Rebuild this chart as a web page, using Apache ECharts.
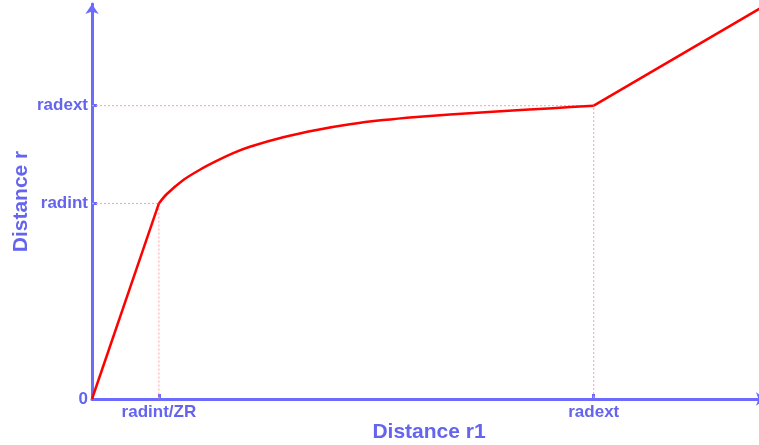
<!DOCTYPE html>
<html>
<head>
<meta charset="utf-8">
<script src="https://cdn.jsdelivr.net/npm/echarts@6/dist/echarts.min.js"></script>
<style>
  html, body { margin: 0; padding: 0; background: #fff; }
  #chart { width: 759px; height: 445px; }
</style>
</head>
<body>
<div id="chart"></div>
<script>
// Mapping r(r1): linear up to radint/ZR, a bending curve up to radext, identity beyond.
const linearInR1 = [0, 0.4];
const linearInR  = [0, 2];
const curveR1 = [0.4, 0.446, 0.546, 0.645, 0.745, 0.844, 0.944, 1.143, 1.343, 1.542, 1.741, 1.94, 2.14, 2.419, 2.756, 3];
const curveR  = [2, 2.094, 2.24, 2.345, 2.435, 2.515, 2.58, 2.677, 2.752, 2.81, 2.853, 2.885, 2.91, 2.94, 2.975, 3];
const outerR1 = [3, 4];
const outerR  = [3, 4];

// Kink points that get dotted guides to both axes
const kinkR1 = [0.4, 3];
const kinkR  = [2, 3];

// Named tick positions
const xTickValues = [0.4, 3];
const xTickNames = ['radint/ZR', 'radext'];
const yTickValues = [0, 2, 3];
const yTickNames = ['0', 'radint', 'radext'];

const axisColor = '#6b6bff';
const textColor = '#6464ee';
const guideColor = '#ff9f9f';
const curveColor = '#ff0000';
const font = '"Liberation Sans", Arial, sans-serif';

const pairs = (xs, ys) => xs.map((x, i) => [x, ys[i]]);

function nameFor(values, names) {
  return v => {
    const i = values.findIndex(t => Math.abs(t - v) < 1e-9);
    return i >= 0 ? names[i] : '';
  };
}

const segmentStyle = {
  type: 'line',
  showSymbol: false,
  clip: true,
  silent: true,
  lineStyle: { color: curveColor, width: 2.5 },
  z: 5
};

// Each guide runs from the y axis to the kink and down to the x axis
const guideSeries = kinkR1.map((x, i) => ({
  type: 'line',
  showSymbol: false,
  silent: true,
  data: [[0, kinkR[i]], [x, kinkR[i]], [x, 0]],
  lineStyle: { color: guideColor, type: [2, 2], width: 1 },
  z: 2
}));

const chart = echarts.init(document.getElementById('chart'), null, { renderer: 'canvas' });
chart.setOption({
  animation: false,
  backgroundColor: '#ffffff',
  grid: { left: 92, right: -7, top: 4, bottom: 46, containLabel: false, outerBoundsMode: 'none' },
  xAxis: {
    type: 'value',
    min: 0, max: 4.03,
    name: 'Distance r1',
    nameLocation: 'middle',
    nameGap: 23,
    nameMoveOverlap: false,
    nameTextStyle: { color: textColor, fontSize: 21, fontWeight: 'bold', fontFamily: font },
    splitLine: { show: false },
    axisLine: {
      show: true, onZero: false,
      symbol: ['none', 'arrow'], symbolSize: [10, 10],
      lineStyle: { color: axisColor, width: 3 }
    },
    axisTick: {
      show: true, inside: true, length: 5, customValues: xTickValues,
      lineStyle: { color: axisColor, width: 3 }
    },
    axisLabel: {
      show: true, customValues: xTickValues, margin: 5,
      formatter: nameFor(xTickValues, xTickNames),
      color: textColor, fontSize: 17, fontWeight: 'bold', fontFamily: font
    }
  },
  yAxis: {
    type: 'value',
    min: 0, max: 4.04,
    name: 'Distance r',
    nameLocation: 'middle',
    nameGap: 60,
    nameRotate: 90,
    nameMoveOverlap: false,
    nameTextStyle: { color: textColor, fontSize: 21, fontWeight: 'bold', fontFamily: font },
    splitLine: { show: false },
    axisLine: {
      show: true, onZero: false,
      symbol: ['none', 'arrow'], symbolSize: [10, 10],
      lineStyle: { color: axisColor, width: 3 }
    },
    axisTick: {
      show: true, inside: true, length: 5, customValues: [2, 3],
      lineStyle: { color: axisColor, width: 3 }
    },
    axisLabel: {
      show: true, customValues: yTickValues, margin: 4,
      formatter: nameFor(yTickValues, yTickNames),
      color: textColor, fontSize: 17, fontWeight: 'bold', fontFamily: font
    }
  },
  series: guideSeries.concat([
    Object.assign({}, segmentStyle, { data: pairs(linearInR1, linearInR) }),
    Object.assign({}, segmentStyle, { data: pairs(curveR1, curveR), smooth: 0.3 }),
    Object.assign({}, segmentStyle, { data: pairs(outerR1, outerR) })
  ])
});
</script>
</body>
</html>
